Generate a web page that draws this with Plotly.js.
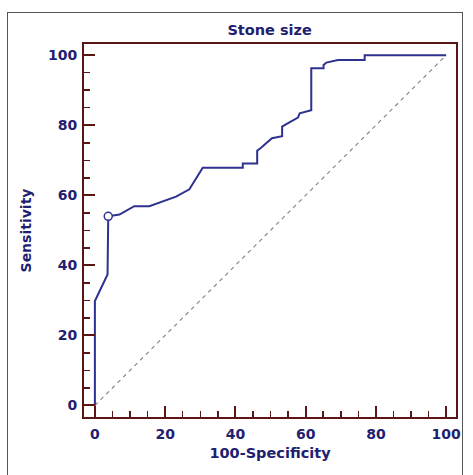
<!DOCTYPE html>
<html><head><meta charset="utf-8">
<script src="https://cdn.plot.ly/plotly-3.0.1.min.js"></script>
<style>
html,body{margin:0;padding:0;background:#fff;}
#wrap{position:relative;width:473px;height:475px;}
#frame{position:absolute;left:7px;top:12px;width:456px;height:470px;border:1px solid #555;box-sizing:border-box;pointer-events:none;}
#chart{position:absolute;left:0;top:0;width:473px;height:475px;}
</style></head>
<body><div id="wrap"><div id="chart"></div><div id="frame"></div></div>
<script>
const fpr = [0, 0, 3.6, 3.8, 7.0, 11.2, 15.5, 18.4, 23.1, 26.9, 30.7, 42.1, 42.1, 46.2, 46.2, 47.3, 50.4, 53.3, 53.3, 54.5, 57.8, 58.3, 61.6, 61.6, 65.1, 65.1, 65.9, 69.2, 76.8, 76.8, 100];
const tpr = [0, 29.8, 37.4, 54.0, 54.5, 56.9, 56.9, 57.9, 59.6, 61.7, 67.9, 67.9, 69.1, 69.1, 72.7, 73.6, 76.3, 76.9, 79.6, 80.3, 82.2, 83.4, 84.3, 96.3, 96.3, 97.2, 97.9, 98.6, 98.6, 100, 100];
const cutX = [3.8];
const cutY = [54.0];
const diagX = [0, 100];
const diagY = [0, 100];
const tickVals = [0, 20, 40, 60, 80, 100];

const navy = '#1f2070';
const lineCol = '#2e3190';
const axisCol = '#5a1616';
const font = {family: 'DejaVu Sans, Verdana, sans-serif', size: 14, color: navy, weight: 'bold'};
const titleFont = Object.assign({}, font, {size: 14.5});

const traces = [
  {x: diagX, y: diagY, mode: 'lines', line: {color: '#808080', width: 1.1, dash: '4px,4px'}, hoverinfo: 'skip'},
  {x: fpr, y: tpr, mode: 'lines', line: {color: lineCol, width: 2}},
  {x: cutX, y: cutY, mode: 'markers', marker: {size: 8, color: '#fff', line: {color: lineCol, width: 1.5}}}
];

const axisCommon = {
  showgrid: false, zeroline: false, showline: true, linecolor: axisCol, linewidth: 2, mirror: true,
  ticks: 'inside', ticklen: 11, tickwidth: 2, tickcolor: axisCol, tickvals: tickVals,
  tickfont: font,
  minor: {dtick: 5, tick0: 0, ticks: 'inside', ticklen: 6, tickwidth: 1.5, tickcolor: axisCol}
};

const layout = {
  width: 473, height: 475,
  margin: {l: 84, r: 17, t: 44, b: 58},
  paper_bgcolor: 'rgba(0,0,0,0)', plot_bgcolor: '#fff',
  showlegend: false,
  title: {text: 'Stone size', font: titleFont, x: 0.57, xanchor: 'center', y: 0.937, yanchor: 'middle'},
  xaxis: Object.assign({}, axisCommon, {range: [-3.1, 102.8], ticklabelstandoff: 3,
    title: {text: '100-Specificity', font: titleFont, standoff: 7}}),
  yaxis: Object.assign({}, axisCommon, {range: [-3.3, 103.2], ticklabelstandoff: 2,
    title: {text: 'Sensitivity', font: font, standoff: 13}})
};

Plotly.newPlot('chart', traces, layout, {displayModeBar: false, staticPlot: true});
</script></body></html>
